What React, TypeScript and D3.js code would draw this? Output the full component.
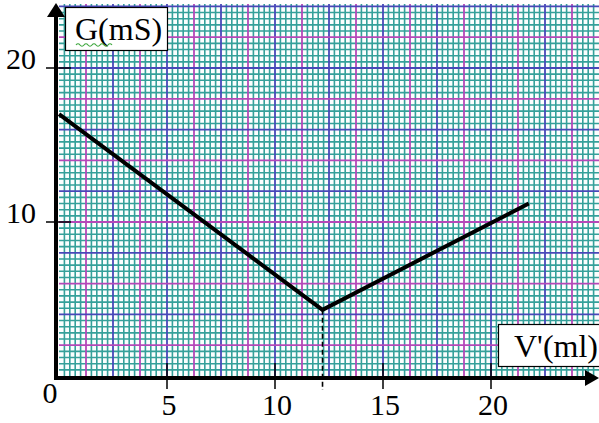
import React from "react";
import * as d3 from "d3";

const volumes = [0, 12.2, 21.75];
const conductance = [17, 4.3, 11.2];
const xTickValues = [5, 10, 15, 20];
const yTickValues = [10, 20];
const xTickLabels = ["5", "10", "15", "20"];
const yTickLabels = ["10", "20"];
const xAxisTitle = "V'(ml)";
const yAxisTitle = "G(mS)";
const equivalenceVolume = 12.2;

const W = 599;
const H = 423;

export default function App() {
  const x = d3.scaleLinear().domain([0, 20]).range([59, 491]);
  const y = d3.scaleLinear().domain([0, 20]).range([376, 68]);
  const xMaxVal = x.invert(599);
  const yMaxVal = y.invert(4);

  const vLines = d3.range(0, xMaxVal, 0.25).map((v, i) => ({ v, i }));
  const hLines = d3.range(0, yMaxVal, 0.4).map((v, i) => ({ v, i }));

  const teal = "#35a09a";
  const blue = "#4848b8";
  const magenta = "#b548b8";

  const pts = volumes.map((v, i) => [v, conductance[i]] as [number, number]);
  const line = d3
    .line<[number, number]>()
    .x((d) => x(d[0]))
    .y((d) => y(d[1]));

  const gridLeft = x(0);
  const gridTop = 4;
  const gridBottom = y(0);

  const font = "'Liberation Serif', 'Times New Roman', serif";

  return (
    <svg
      width={W}
      height={H}
      style={{ position: "absolute", left: 0, top: 0, background: "#fff" }}
    >
      <defs>
        <clipPath id="gridClip">
          <rect x={gridLeft} y={gridTop} width={W - gridLeft} height={gridBottom - gridTop} />
        </clipPath>
      </defs>
      <g clipPath="url(#gridClip)">
        <rect x={gridLeft} y={gridTop} width={W - gridLeft} height={gridBottom - gridTop} fill="#fbfefe" />
        {vLines
          .filter((d) => d.i % 5 !== 0)
          .map((d) => (
            <line key={"vm" + d.i} x1={x(d.v)} x2={x(d.v)} y1={gridTop} y2={gridBottom} stroke={teal} strokeWidth={1.6} />
          ))}
        {hLines
          .filter((d) => d.i % 5 !== 0)
          .map((d) => (
            <line key={"hm" + d.i} y1={y(d.v)} y2={y(d.v)} x1={gridLeft} x2={W} stroke={teal} strokeWidth={1.6} />
          ))}
        {vLines
          .filter((d) => d.i % 5 === 0 && d.i > 0)
          .map((d) => (
            <line
              key={"vM" + d.i}
              x1={x(d.v)}
              x2={x(d.v)}
              y1={gridTop}
              y2={gridBottom}
              stroke={(d.i / 5) % 2 === 1 ? magenta : blue}
              strokeWidth={1.8}
            />
          ))}
        {hLines
          .filter((d) => d.i % 5 === 0 && d.i > 0)
          .map((d) => (
            <line
              key={"hM" + d.i}
              y1={y(d.v)}
              y2={y(d.v)}
              x1={gridLeft}
              x2={W}
              stroke={(d.i / 5) % 2 === 1 ? magenta : blue}
              strokeWidth={1.8}
            />
          ))}
      </g>

      {/* dashed equivalence line */}
      <line
        x1={x(equivalenceVolume)}
        x2={x(equivalenceVolume)}
        y1={y(conductance[1])}
        y2={390}
        stroke="#000"
        strokeWidth={1.6}
        strokeDasharray="5,3"
      />

      {/* data line */}
      <path d={line(pts) || ""} fill="none" stroke="#000" strokeWidth={4} strokeLinejoin="miter" />

      {/* axes */}
      <line x1={56} x2={56} y1={380} y2={14} stroke="#000" strokeWidth={4} />
      <path d="M 56 3 L 47 17 L 65 17 Z" fill="#000" />
      <line x1={54} x2={588} y1={378} y2={378} stroke="#000" strokeWidth={4} />
      <path d="M 599 378 L 585 370 L 585 386 Z" fill="#000" />

      {/* ticks */}
      {xTickValues.map((v) => (
        <line key={"xt" + v} x1={x(v)} x2={x(v)} y1={363} y2={389} stroke="#000" strokeWidth={1.5} />
      ))}
      {yTickValues.map((v) => (
        <line key={"yt" + v} x1={46} x2={71} y1={y(v)} y2={y(v)} stroke="#000" strokeWidth={1.5} />
      ))}

      {/* tick labels */}
      {xTickValues.map((v, i) => (
        <text key={"xl" + v} x={x(v) + 2} y={415} textAnchor="middle" fontFamily={font} fontSize={30} fill="#000">
          {xTickLabels[i]}
        </text>
      ))}
      <text x={50} y={403} textAnchor="middle" fontFamily={font} fontSize={30} fill="#000">
        0
      </text>
      {yTickValues.map((v, i) => (
        <text key={"yl" + v} x={36} y={y(v) + 1} textAnchor="end" fontFamily={font} fontSize={30} fill="#000">
          {yTickLabels[i]}
        </text>
      ))}

      {/* axis title boxes */}
      <rect x={65.5} y={7.5} width={102} height={43} fill="#fff" stroke="#000" strokeWidth={1.2} />
      <text x={75} y={40} fontFamily={font} fontSize={32} fill="#000">
        {yAxisTitle}
      </text>
      <path
        d="M 76 45 q 2 -2.5 4 0 t 4 0 t 4 0 t 4 0 t 4 0 t 4 0 t 4 0 t 4 0 t 4 0"
        fill="none"
        stroke="#3aa53a"
        strokeWidth={1.2}
      />

      <rect x={498.5} y={324.5} width={110} height={42} fill="#fff" stroke="#000" strokeWidth={1.2} />
      <text x={514} y={357} fontFamily={font} fontSize={32} fill="#000">
        {xAxisTitle}
      </text>
    </svg>
  );
}
